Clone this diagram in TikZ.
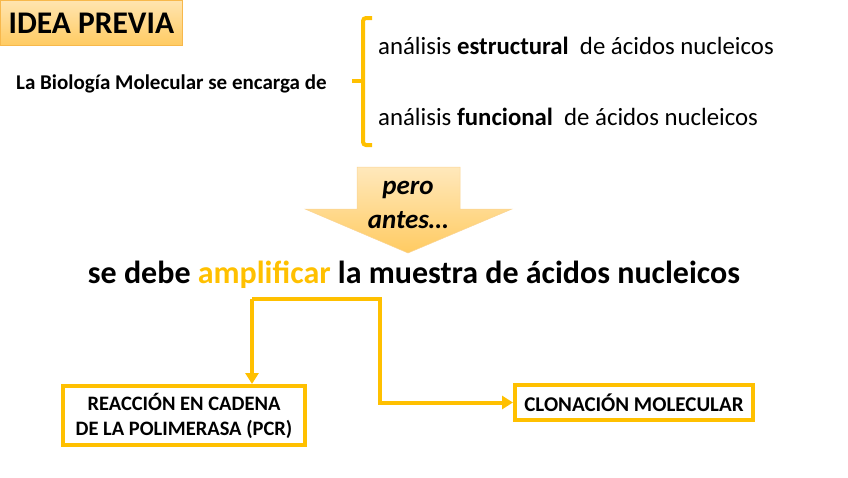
\documentclass[tikz,border=0pt]{standalone}
\usepackage{fontspec}
\setmainfont{Carlito}
\usetikzlibrary{arrows.meta,positioning,calc}
\definecolor{ink}{HTML}{000000}
\definecolor{gold}{HTML}{FFC000}
\definecolor{peach}{HTML}{FFD98E}
\definecolor{peachdark}{HTML}{FFCB62}
\definecolor{peachedge}{HTML}{F7B84C}
\newcommand{\fsz}[2]{\fontsize{#1}{#2}\selectfont}
\tikzset{
  titlebox/.style={draw=peachedge, line width=0.8pt, top color=peach!70!white, bottom color=peachdark, minimum width=182pt, minimum height=45pt, inner sep=0pt, font=\fsz{31.5}{36}\bfseries},
  goldbox/.style={draw=gold, line width=4pt, fill=white, align=center, inner sep=0pt},
  link/.style={draw=gold, line width=4pt},
  arr/.style={link, -{Triangle[width=13pt,length=11pt]}},
  brace/.style={draw=gold, line width=4pt, rounded corners=3pt}
}

\begin{document}
\begin{tikzpicture}[x=1pt, y=-1pt, text=ink]
  \useasboundingbox (0,0) rectangle (848,477);

  % idea previa
  \node[titlebox, anchor=north west] (idea) at (0,0) {IDEA PREVIA};
  \node[anchor=west, inner sep=0pt, font=\fsz{21}{25}\bfseries] (bio) at (16,84) {La Biología Molecular se encarga de};

  % the two analyses
  \draw[brace] (372,18) -| (363,145) -- (372,145);
  \draw[brace] (352,81) -- (363,81);
  \node[anchor=west, inner sep=0pt, font=\fsz{24.8}{29}] (est) at (378,46) {análisis \textbf{estructural}\ \ de ácidos nucleicos};
  \node[anchor=west, inner sep=0pt, font=\fsz{24.8}{29}] (fun) at (378,117) {análisis \textbf{funcional}\ \ de ácidos nucleicos};

  % pero antes
  \draw[draw=peachedge!60, line width=0.5pt, top color=peach!60!white, bottom color=peachdark]
    (357,167) -- (460,167) -- (460,209) -- (512,209) -- (408,253) -- (305,209) -- (357,209) -- cycle;
  \node[align=center, font=\fsz{27}{34}\bfseries\itshape] (pero) at (408,205) {pero\\antes…};

  \node[font=\fsz{32}{38}\bfseries] (amp) at (414,275) {se debe \textcolor{gold}{amplificar} la muestra de ácidos nucleicos};

  % two methods
  \node[goldbox, minimum width=242pt, minimum height=59pt, font=\fsz{20.5}{25}\bfseries] (pcr) at (184,415.5) {REACCIÓN EN CADENA\\DE LA POLIMERASA (PCR)};
  \node[goldbox, minimum width=238pt, minimum height=35pt, font=\fsz{21}{25}\bfseries] (clon) at (634,402.5) {CLONACIÓN MOLECULAR};

  \coordinate (forkL) at (252,299);
  \coordinate (forkR) at (380,299);
  \draw[arr] (forkL) -- (forkL |- pcr.north);
  \draw[arr] (forkL) -- (forkR) |- (clon.west);
\end{tikzpicture}
\end{document}
